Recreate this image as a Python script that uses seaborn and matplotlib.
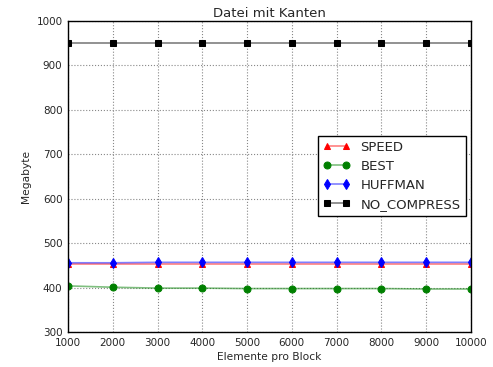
import matplotlib
matplotlib.use("Agg")
import matplotlib.pyplot as plt
import matplotlib.colors as mcolors
import seaborn as sns
import pandas as pd

sns.set_style("white")
plt.rcParams['font.family'] = ['DejaVu Sans']

blocks = [1000, 2000, 3000, 4000, 5000, 6000, 7000, 8000, 9000, 10000]
speed = [453, 453, 453, 453, 453, 453, 453, 453, 453, 453]
best = [404, 401, 399, 399, 398, 398, 398, 398, 397, 397]
huffman = [456, 456, 457, 457, 457, 457, 457, 457, 457, 457]
no_compress = [951, 951, 951, 951, 951, 951, 951, 951, 951, 951]

series = [
    ("SPEED", speed, "red", "^"),
    ("BEST", best, "green", "o"),
    ("HUFFMAN", huffman, "blue", "d"),
    ("NO_COMPRESS", no_compress, "black", "s"),
]


def style_line(line, color):
    # translucent connecting line, solid markers
    line.set_color(mcolors.to_rgba(color, 0.5))
    line.set_markerfacecolor(color)
    line.set_markeredgecolor(color)


fig = plt.figure(figsize=(4.93, 3.67), dpi=100)
ax = fig.add_axes([0.138, 0.095, 0.817, 0.848])

for name, vals, color, marker in series:
    df = pd.DataFrame({"x": blocks, "y": vals})
    sns.lineplot(data=df, x="x", y="y", ax=ax, color=color, marker=marker,
                 markersize=5, linewidth=1.2, label=name)
    style_line(ax.lines[-1], color)

ax.set_xlim(1000, 10000)
ax.set_ylim(300, 1000)
ax.set_xticks(blocks)
ax.set_yticks(range(300, 1001, 100))
ax.grid(True, linestyle=":", color="#888888", linewidth=0.8)
for s in ax.spines.values():
    s.set_color("black")
    s.set_linewidth(1)
ax.tick_params(axis="both", labelsize=7.5, direction="in", length=0, pad=4)
ax.set_xlabel("Elemente pro Block", fontsize=7.7, labelpad=3)
ax.set_ylabel("Megabyte", fontsize=7.7, labelpad=4)
ax.set_title("Datei mit Kanten", fontsize=9.5, pad=3)

leg = ax.legend(loc="center", bbox_to_anchor=(0.804, 0.502), fontsize=9.5,
                frameon=True, fancybox=False, edgecolor="black", framealpha=1,
                borderpad=0.4, handlelength=2.0, handletextpad=0.8,
                labelspacing=0.45, numpoints=2)
leg.get_frame().set_linewidth(1)
for handle, (_, _, color, _) in zip(leg.legend_handles, series):
    style_line(handle, color)

fig.savefig("out.png", dpi=100)
